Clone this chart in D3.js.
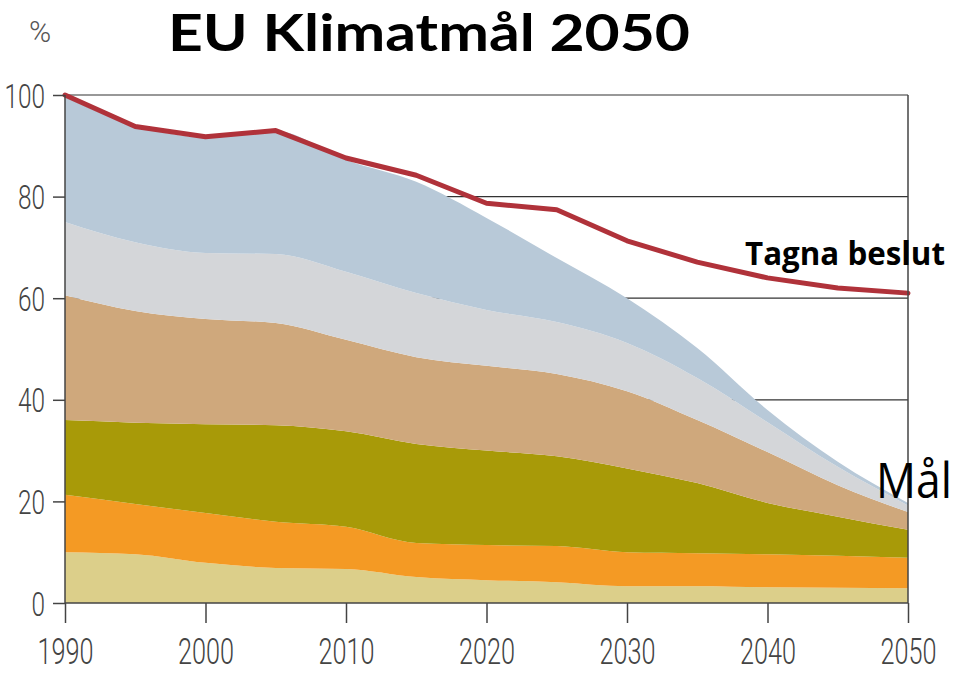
<!DOCTYPE html>
<html><head><meta charset="utf-8">
<script src="https://cdn.jsdelivr.net/npm/d3@7"></script>
<style>body{margin:0;background:#fff}svg{display:block}</style>
</head><body>
<svg id="c" width="960" height="674"></svg>
<script>
const years = [1990,1995,2000,2005,2010,2015,2020,2025,2030,2035,2040,2045,2050];
const layerA = [10,9.6,7.9,6.9,6.7,5.1,4.5,4.1,3.3,3.3,3.1,3.0,2.9];
const layerB = [11.3,9.9,9.8,9.1,8.3,6.7,6.9,7.1,6.7,6.5,6.5,6.3,6.0];
const layerC = [14.7,16.0,17.5,19.0,18.8,19.5,18.6,17.7,16.5,13.8,10.1,7.7,5.5];
const layerD = [24.6,22.0,20.7,20.1,18.0,17.1,16.7,16.2,15.2,12.4,10.0,6.2,3.5];
const layerE = [14.4,13.5,13.0,13.6,13.4,12.6,11.0,10.2,9.5,8.3,5.9,3.6,1.3];
const layerF = [24.6,23.0,22.8,24.2,22.0,21.9,18.1,12.6,8.8,5.9,2.4,1.0,0.5];
const tagnaBeslut = [100,93.8,91.8,93,87.6,84.2,78.7,77.4,71.3,67.1,64,62,61];
const yTicks = [0,20,40,60,80,100];
const xTicks = [1990,2000,2010,2020,2030,2040,2050];
const colors = ["#dccf8a","#f49a24","#a89a08","#cfa87c","#d4d6d9","#b8c9d8"];

const svg = d3.select("#c");
const x = d3.scaleLinear().domain([1990,2050]).range([65,908]);
const y = d3.scaleLinear().domain([0,100]).range([603,95]);

const keys = ["a","b","c","d","e","f"];
const layers = [layerA,layerB,layerC,layerD,layerE,layerF];
const table = years.map((yr,i)=>{const o={year:yr};keys.forEach((k,j)=>o[k]=layers[j][i]);return o;});
const series = d3.stack().keys(keys)(table);

// gridlines behind
svg.append("g").selectAll("line").data([40,60,80]).join("line")
  .attr("x1",x(1990)).attr("x2",x(2050)).attr("y1",d=>y(d)).attr("y2",d=>y(d))
  .attr("stroke","#333").attr("stroke-width",1.2);

const area = d3.area().x(d=>x(d.data.year)).y0(d=>y(d[0])).y1(d=>y(d[1])).curve(d3.curveMonotoneX);
svg.append("g").selectAll("path").data(series).join("path")
  .attr("d",area).attr("fill",(d,i)=>colors[i]);

// top line at 100
svg.append("line").attr("x1",x(1990)).attr("x2",x(2050)).attr("y1",y(100)).attr("y2",y(100))
  .attr("stroke","#333").attr("stroke-width",1.2);

// red line
const line = d3.line().x((d,i)=>x(years[i])).y(d=>y(d)).curve(d3.curveLinear);
svg.append("path").attr("d",line(tagnaBeslut)).attr("fill","none")
  .attr("stroke","#b0323a").attr("stroke-width",5).attr("stroke-linejoin","round").attr("stroke-linecap","round");

// axes
const yAxis = d3.axisLeft(y).tickValues(yTicks).tickSize(12).tickPadding(8).tickFormat(d3.format("d"));
const gy = svg.append("g").attr("transform",`translate(${x(1990)},0)`).call(yAxis);
const xAxis = d3.axisBottom(x).tickValues(xTicks).tickSize(20).tickPadding(12).tickFormat(d3.format("d"));
const gx = svg.append("g").attr("transform",`translate(0,${y(0)})`).call(xAxis);
[gx,gy].forEach(g=>{
  g.select(".domain").remove();
  g.selectAll("line").attr("stroke","#444").attr("stroke-width",1.5);
  g.selectAll("text").attr("fill","#444").attr("font-family","Roboto,sans-serif").attr("font-weight",300);
});
gy.selectAll("text").attr("dy",null).attr("y",12).attr("font-size",34)
  .attr("textLength",d=>String(d).length*13.5).attr("lengthAdjust","spacingAndGlyphs");
gx.selectAll("text").attr("dy",null).attr("y",61).attr("font-size",36)
  .attr("textLength",56).attr("lengthAdjust","spacingAndGlyphs");
// axis frame lines
svg.append("line").attr("x1",x(1990)).attr("x2",x(1990)).attr("y1",y(100)).attr("y2",y(0)).attr("stroke","#444").attr("stroke-width",1.5);
svg.append("line").attr("x1",x(2050)).attr("x2",x(2050)).attr("y1",y(100)).attr("y2",y(0)).attr("stroke","#444").attr("stroke-width",1.5);
svg.append("line").attr("x1",x(1990)).attr("x2",x(2050)).attr("y1",y(0)).attr("y2",y(0)).attr("stroke","#444").attr("stroke-width",1.5);

svg.append("text").attr("x",40).attr("y",42).attr("text-anchor","middle")
  .attr("font-family","Roboto,sans-serif").attr("font-weight",300).attr("font-size",30).attr("fill","#555").text("%");

svg.append("text").attr("x",168).attr("y",51).attr("font-family","Lato,'Open Sans',sans-serif")
  .attr("font-weight",700).attr("font-size",51).attr("fill","#000")
  .attr("textLength",522).attr("lengthAdjust","spacingAndGlyphs").text("EU Klimatmål 2050");

svg.append("text").attr("x",745).attr("y",265).attr("font-family","'Open Sans',sans-serif")
  .attr("font-weight",700).attr("font-size",32).attr("fill","#000")
  .attr("textLength",200).attr("lengthAdjust","spacingAndGlyphs").text("Tagna beslut");

svg.append("text").attr("x",876).attr("y",498).attr("font-family","'Open Sans',sans-serif")
  .attr("font-size",50).attr("fill","#000")
  .attr("textLength",76).attr("lengthAdjust","spacingAndGlyphs").text("Mål");
</script>
</body></html>
